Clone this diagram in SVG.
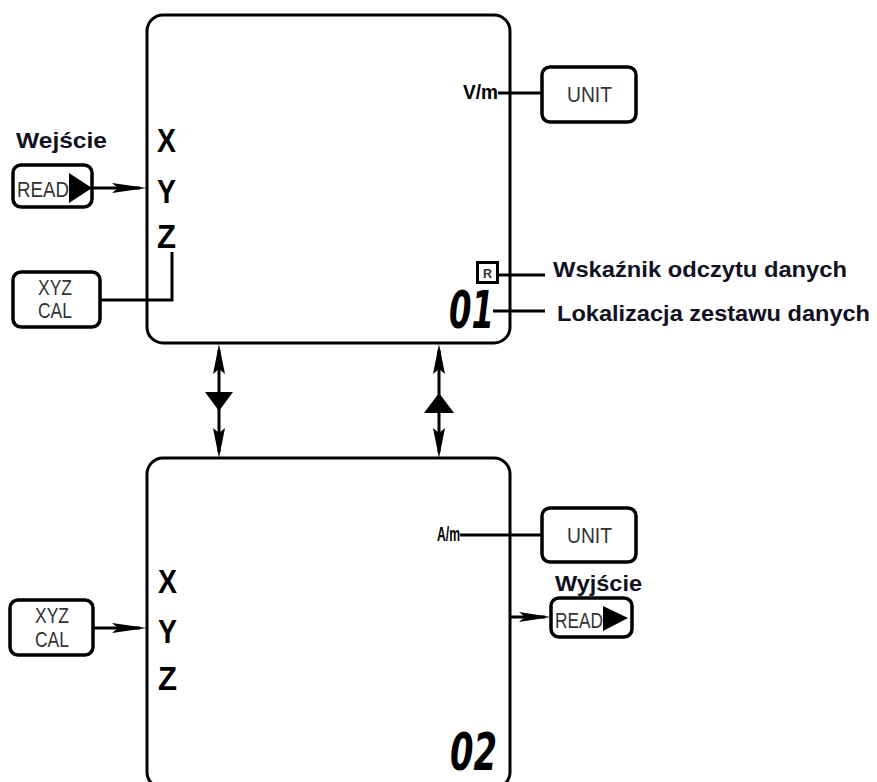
<svg xmlns="http://www.w3.org/2000/svg" width="877" height="782" viewBox="0 0 877 782">
<style>
.box{fill:#fff;stroke:#000;stroke-width:3}
.btn{fill:#fff;stroke:#000;stroke-width:3.5}
.ln{fill:none;stroke:#000;stroke-width:3}
.ah{fill:#000}
.axis{font-family:"Liberation Sans",Arial,sans-serif;font-weight:bold;font-size:34px;fill:#000}
.unitlbl{font-family:"Liberation Sans",Arial,sans-serif;font-weight:bold;font-size:20px;fill:#000}
.btntxt{font-family:"Liberation Sans",Arial,sans-serif;font-size:22px;fill:#333}
.lbl{font-family:"Liberation Sans",Arial,sans-serif;font-weight:bold;font-size:22px;fill:#111122}
.dig{font-family:"DejaVu Sans Condensed","DejaVu Sans",sans-serif;font-weight:bold;font-style:italic;font-size:46px;fill:#000}
</style>
<rect width="877" height="782" fill="#fff"/>

<g id="display-top">
<rect class="box" x="147" y="15" width="363" height="328" rx="16"/>
<text class="axis" x="157" y="152" textLength="19" lengthAdjust="spacingAndGlyphs">X</text>
<text class="axis" x="157" y="203" textLength="19" lengthAdjust="spacingAndGlyphs">Y</text>
<text class="axis" x="157" y="248" textLength="19" lengthAdjust="spacingAndGlyphs">Z</text>
<text class="unitlbl" x="463" y="99" textLength="35" lengthAdjust="spacingAndGlyphs">V/m</text>
<rect x="477.5" y="262.5" width="20" height="20" fill="#fff" stroke="#000" stroke-width="3"/>
<text x="487.5" y="278" text-anchor="middle" font-family="Liberation Sans,Arial,sans-serif" font-weight="bold" font-size="13" fill="#333" textLength="9" lengthAdjust="spacingAndGlyphs">R</text>
<text class="dig" transform="translate(449,328) scale(1,1.12)" x="0" y="0" textLength="45" lengthAdjust="spacingAndGlyphs">01</text>
</g>

<g id="display-bottom">
<rect class="box" x="147" y="458" width="363" height="330" rx="16"/>
<text class="axis" x="158" y="593" textLength="19" lengthAdjust="spacingAndGlyphs">X</text>
<text class="axis" x="158" y="643" textLength="19" lengthAdjust="spacingAndGlyphs">Y</text>
<text class="axis" x="158" y="690" textLength="19" lengthAdjust="spacingAndGlyphs">Z</text>
<text class="unitlbl" x="437" y="541" textLength="23" lengthAdjust="spacingAndGlyphs">A/m</text>
<text class="dig" transform="translate(450,770) scale(1,1.12)" x="0" y="0" textLength="47" lengthAdjust="spacingAndGlyphs">02</text>
</g>

<g id="label-wejscie">
<text class="lbl" x="16" y="148" textLength="91" lengthAdjust="spacingAndGlyphs">Wejście</text>
</g>

<g id="btn-read-in">
<rect class="btn" x="13" y="165" width="79" height="42" rx="8"/>
<text class="btntxt" x="17" y="197" textLength="52" lengthAdjust="spacingAndGlyphs">READ</text>
<polygon class="ah" points="69,173 92,188 69,203"/>
</g>

<g id="btn-xyzcal-top">
<rect class="btn" x="13" y="272" width="87" height="55" rx="8"/>
<text class="btntxt" x="55" y="295" text-anchor="middle" font-size="20" textLength="34" lengthAdjust="spacingAndGlyphs">XYZ</text>
<text class="btntxt" x="55" y="318" text-anchor="middle" font-size="20" textLength="34" lengthAdjust="spacingAndGlyphs">CAL</text>
</g>

<g id="btn-unit-top">
<rect class="btn" x="542" y="67" width="94" height="55" rx="8"/>
<text class="btntxt" x="567" y="102" textLength="45" lengthAdjust="spacingAndGlyphs">UNIT</text>
</g>

<g id="label-wskaznik">
<text class="lbl" x="553" y="277" textLength="294" lengthAdjust="spacingAndGlyphs">Wskaźnik odczytu danych</text>
</g>

<g id="label-lokalizacja">
<text class="lbl" x="557" y="321" textLength="313" lengthAdjust="spacingAndGlyphs">Lokalizacja zestawu danych</text>
</g>

<g id="btn-xyzcal-bottom">
<rect class="btn" x="10" y="600" width="83" height="55" rx="8"/>
<text class="btntxt" x="52" y="623" text-anchor="middle" font-size="20" textLength="34" lengthAdjust="spacingAndGlyphs">XYZ</text>
<text class="btntxt" x="52" y="647" text-anchor="middle" font-size="20" textLength="34" lengthAdjust="spacingAndGlyphs">CAL</text>
</g>

<g id="btn-unit-bottom">
<rect class="btn" x="542" y="508" width="94" height="54" rx="8"/>
<text class="btntxt" x="567" y="543" textLength="45" lengthAdjust="spacingAndGlyphs">UNIT</text>
</g>

<g id="label-wyjscie">
<text class="lbl" x="555" y="591" textLength="87" lengthAdjust="spacingAndGlyphs">Wyjście</text>
</g>

<g id="btn-read-out">
<rect class="btn" x="551" y="598" width="81" height="39" rx="8"/>
<text class="btntxt" x="555" y="628" textLength="48" lengthAdjust="spacingAndGlyphs">READ</text>
<polygon class="ah" points="603,606 628,618 603,631"/>
</g>

<g id="connectors">
<line class="ln" x1="92" y1="188" x2="140" y2="188"/>
<polygon class="ah" points="112,183 147,188 112,193 118,188"/>
<polyline class="ln" points="100,300 172,300 172,252"/>
<line class="ln" x1="498" y1="93" x2="542" y2="93"/>
<line class="ln" x1="498" y1="275" x2="545" y2="275"/>
<line class="ln" x1="493" y1="311" x2="545" y2="311"/>
<line class="ln" x1="460" y1="535" x2="542" y2="535"/>
<line class="ln" x1="93" y1="628" x2="140" y2="628"/>
<polygon class="ah" points="112,623 147,628 112,633 118,628"/>
<line class="ln" x1="510" y1="617" x2="545" y2="617"/>
<polygon class="ah" points="519,612 551,617 519,622 525,617"/>
<line class="ln" x1="219" y1="350" x2="219" y2="452"/>
<polygon class="ah" points="219,344 225,374 219,369 213,374"/>
<polygon class="ah" points="219,458 225,428 219,433 213,428"/>
<polygon class="ah" points="205,392 233,392 219,411"/>
<line class="ln" x1="439" y1="350" x2="439" y2="452"/>
<polygon class="ah" points="439,344 445,374 439,369 433,374"/>
<polygon class="ah" points="439,458 445,428 439,433 433,428"/>
<polygon class="ah" points="424,413 454,413 439,393"/>
</g>
</svg>
